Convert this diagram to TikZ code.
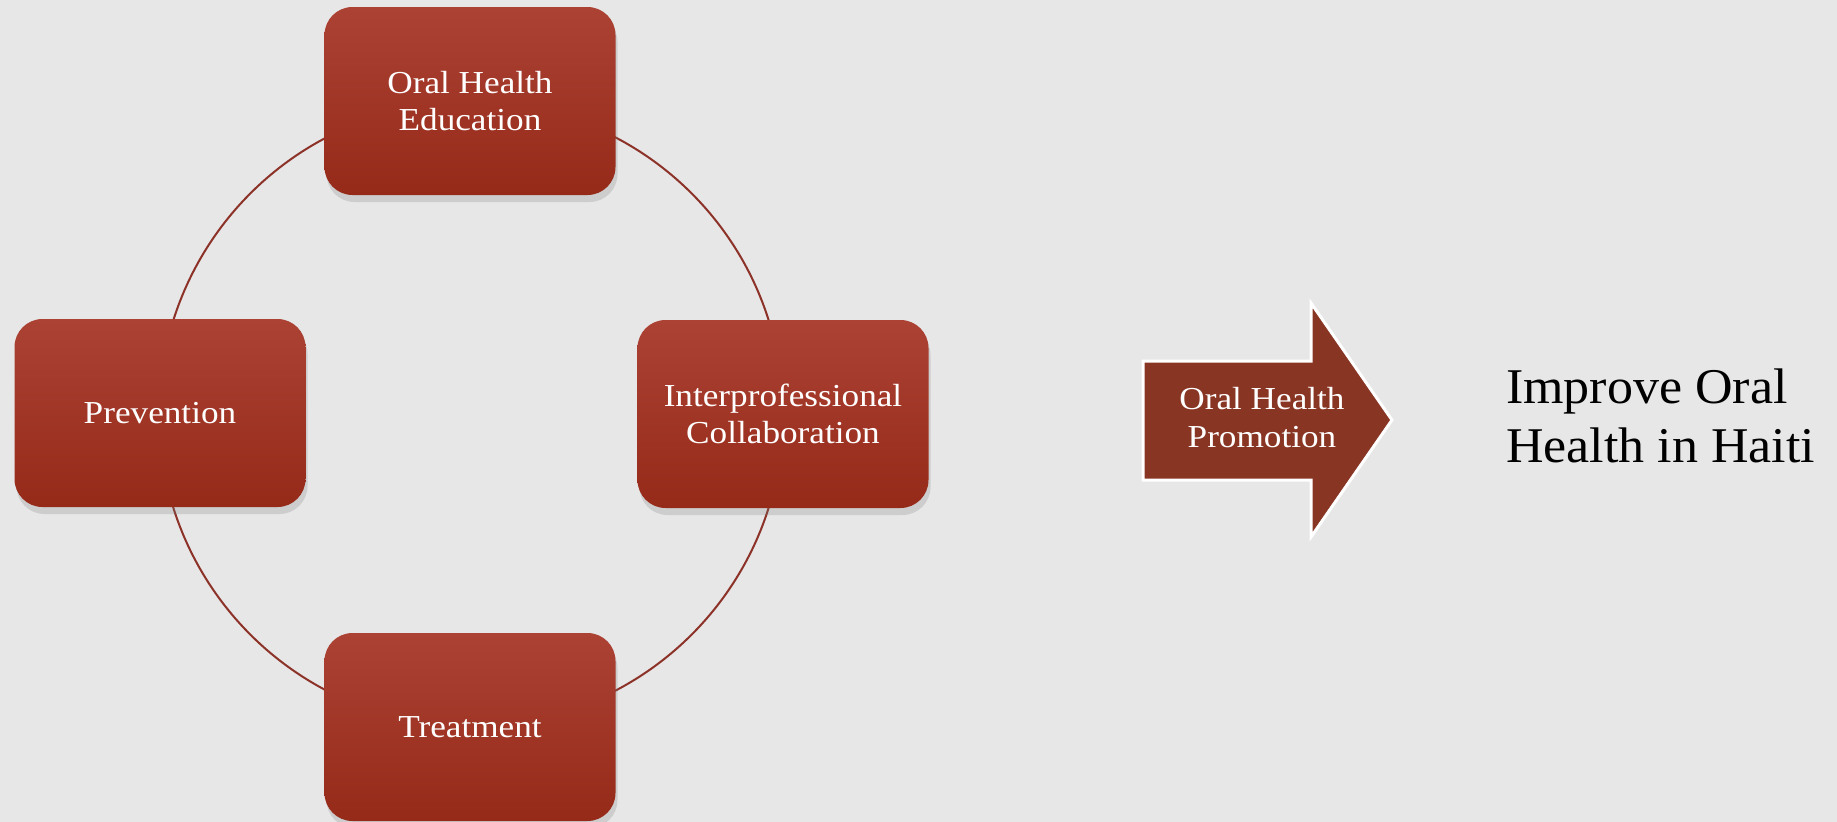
\documentclass[tikz,border=0pt]{standalone}
\usepackage{fontspec}
\setmainfont{Liberation Serif}
\newfontfamily\widefont[FakeStretch=1.1]{Liberation Serif}
\newfontfamily\goalfont[FakeStretch=1.04]{Liberation Serif}
\usetikzlibrary{shadows}
\definecolor{boxtop}{RGB}{171,66,52}
\definecolor{boxbot}{RGB}{150,42,25}
\definecolor{ringred}{RGB}{140,50,40}
\definecolor{arrowred}{RGB}{137,53,36}
\definecolor{paper}{RGB}{231,231,231}
\tikzset{
	stage/.style={rounded corners=28pt, minimum width=291pt, minimum height=188pt,
		top color=boxtop, bottom color=boxbot, text=white, align=center,
		font=\widefont\fontsize{32}{37}\selectfont,
		drop shadow={shadow xshift=2pt, shadow yshift=-7pt, opacity=0.25}},
	ring/.style={draw=ringred, line width=2pt},
}

\begin{document}
\begin{tikzpicture}[x=1pt, y=-1pt]
			%%%%% START %%%%%
			\useasboundingbox (0,0) rectangle (1837,822);
			\fill[paper] (0,0) rectangle (1837,822);
			
			% ring behind the four stages
			\coordinate (hub) at (471,414);
			\draw[ring] (hub) circle[radius=312];
			
			\node[stage] (edu) at (470,101) {Oral Health\\Education};
			\node[stage] (prev) at (160,413) {Prevention};
			\node[stage] (collab) at (783,414) {Interprofessional\\Collaboration};
			\node[stage] (treat) at (470,727) {Treatment};
			
			% promotion arrow
			\draw[fill=arrowred, draw=white, line width=3pt, line join=miter]
				(1143,361) -- (1311,361) -- (1311,303) -- (1392,420)
				-- (1311,537) -- (1311,480) -- (1143,480) -- cycle;
			\node[text=white, align=center, font=\widefont\fontsize{32}{38}\selectfont] (promo) at (1262,418) {Oral Health\\Promotion};
			
			\node[anchor=west, inner sep=0pt, align=left, font=\goalfont\fontsize{50}{59}\selectfont] (goal) at (1506,416) {Improve Oral\\Health in Haiti};
			%%%%% END %%%%%
\end{tikzpicture}
\end{document}
